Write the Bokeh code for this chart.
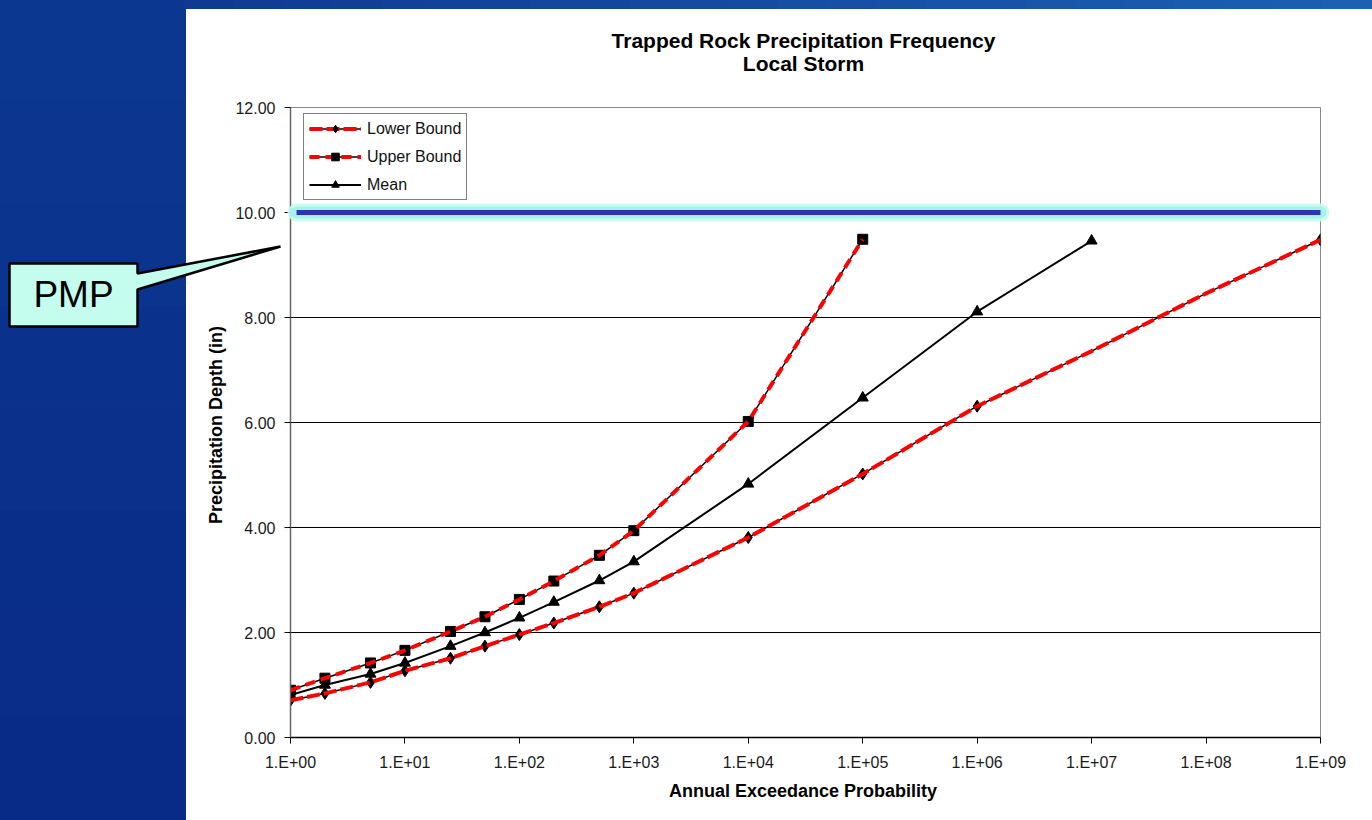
from bokeh.plotting import figure
from bokeh.models import (Range1d, FixedTicker, CustomJSTickFormatter, PrintfTickFormatter,
                          Legend, LegendItem, LinearScale)
from bokeh.core.properties import value
from bokeh.embed import file_html
from bokeh.resources import INLINE

# ---------------- data ----------------
title_lines = ["Trapped Rock Precipitation Frequency", "Local Storm"]
x_label = "Annual Exceedance  Probability"
y_label = "Precipitation Depth  (in)"
pmp_text = "PMP"

lower_x = [1, 2, 5, 10, 25, 50, 100, 200, 500, 1000, 1e4, 1e5, 1e6, 1e7, 1e8, 1e9]
lower_y = [0.71, 0.84, 1.05, 1.27, 1.51, 1.74, 1.96, 2.18, 2.49, 2.75, 3.81, 5.02, 6.31, 7.36, 8.46, 9.48]
lower_has_marker = [True] * 13 + [False, False, True]

upper_x = [1, 2, 5, 10, 25, 50, 100, 200, 500, 1000, 1e4, 1e5]
upper_y = [0.90, 1.13, 1.42, 1.66, 2.02, 2.30, 2.63, 2.98, 3.47, 3.94, 6.02, 9.49]

mean_x = [1, 2, 5, 10, 25, 50, 100, 200, 500, 1000, 1e4, 1e5, 1e6, 1e7]
mean_y = [0.81, 1.00, 1.21, 1.42, 1.74, 2.00, 2.28, 2.58, 2.99, 3.35, 4.83, 6.47, 8.11, 9.46]

pmp_value = 10.0
pmp_x = [1.13, 1e9]

x_ticks = [1, 10, 100, 1e3, 1e4, 1e5, 1e6, 1e7, 1e8, 1e9]
y_ticks = [0, 2, 4, 6, 8, 10, 12]

# ---------------- layout ----------------
W, H = 1372, 820
FL, FT, FR, FB = 290, 107, 1320, 737   # frame edges in canvas px
FONT = "Liberation Sans"

p = figure(width=W, height=H, x_axis_type="log",
           x_range=Range1d(1, 1e9), y_range=Range1d(0, 12),
           min_border_left=FL, min_border_right=W - FR,
           min_border_top=FT, min_border_bottom=H - FB,
           output_backend="svg", toolbar_location=None)
p.border_fill_color = "white"
p.background_fill_color = "white"
p.outline_line_color = "#8a8a8a"
p.outline_line_width = 1

# pixel-space ranges for slide decoration (canvas coordinates)
p.extra_x_ranges = {"px": Range1d(FL, FR)}
p.extra_x_scales = {"px": LinearScale()}
p.extra_y_ranges = {"py": Range1d(FB, FT)}
PX = dict(x_range_name="px", y_range_name="py")

# blue slide background (stepped gradient), drawn unclipped
lefts, rights, tops, bots, cols = [], [], [], [], []
n = 8
for i in range(n):
    t = i / (n - 1)
    r = round(0x0c + (0x08 - 0x0c) * t); g = round(0x37 + (0x2b - 0x37) * t); b = round(0x90 + (0x88 - 0x90) * t)
    lefts.append(-2); rights.append(185); tops.append(round(H * i / n) - 2)
    bots.append(round(H * (i + 1) / n) + 3)
    cols.append("#%02x%02x%02x" % (r, g, b))
n = 24
for i in range(n):
    t = i / (n - 1)
    r = round(0x0f + (0x1b - 0x0f) * t); g = round(0x3a + (0x60 - 0x3a) * t); b = round(0x92 + (0xb3 - 0x92) * t)
    lefts.append(round(185 + (W - 185) * i / n) - 1); rights.append(round(185 + (W - 185) * (i + 1) / n) + 3)
    tops.append(-2); bots.append(8); cols.append("#%02x%02x%02x" % (r, g, b))
p.quad(left=lefts, right=rights, top=tops, bottom=bots, fill_color=cols, line_color=cols, line_width=1,
       level="guide", **PX)

# axes
p.xaxis.ticker = FixedTicker(ticks=x_ticks)
p.xaxis.formatter = CustomJSTickFormatter(code="""
    const e = Math.round(Math.log10(tick));
    return "1.E+" + String(e).padStart(2, "0");
""")
p.yaxis.ticker = FixedTicker(ticks=y_ticks)
p.yaxis.formatter = PrintfTickFormatter(format="%.2f")
for ax in (p.xaxis, p.yaxis):
    ax.major_label_text_font = FONT
    ax.major_label_text_font_size = "16px"
    ax.major_label_text_color = "#1a1a1a"
    ax.axis_label_text_font = FONT
    ax.axis_label_text_font_size = "18px"
    ax.axis_label_text_font_style = "bold"
    ax.axis_label_text_color = "#000000"
    ax.major_tick_in = 0
    ax.major_tick_out = 6
    ax.minor_tick_in = 0
    ax.minor_tick_out = 0
    ax.major_tick_line_color = "#000000"
p.xaxis.axis_label = x_label
p.yaxis.axis_label = y_label
p.xaxis.axis_line_color = "#000000"
p.yaxis.axis_line_color = "#666666"
p.yaxis.axis_line_width = 1.5
p.xaxis.axis_line_width = 1.5
p.yaxis.major_label_standoff = 9
p.xaxis.major_label_standoff = 10
p.yaxis.axis_label_standoff = 6
p.xaxis.axis_label_standoff = 7

p.xgrid.grid_line_color = None
p.ygrid.grid_line_color = "#000000"
p.ygrid.grid_line_width = 1
p.ygrid.ticker = FixedTicker(ticks=y_ticks)

# PMP line with glow (glow may spill past the plot edge, as in the slide)
p.line(pmp_x, [pmp_value] * len(pmp_x), line_color="#c8faef", line_width=18, line_alpha=0.9,
       line_cap="round", level="annotation")
p.line(pmp_x, [pmp_value] * len(pmp_x), line_color="#a4f5e3", line_width=12, line_alpha=1,
       line_cap="round", level="annotation")
p.line(pmp_x, [pmp_value] * len(pmp_x), line_color="#3232b4", line_width=5, level="annotation")

# series
mean_line = p.line(mean_x, mean_y, line_color="black", line_width=2)
mean_pts = p.scatter(mean_x, mean_y, marker="triangle", size=11, fill_color="black", line_color="black")

low_black = p.line(lower_x, lower_y, line_color="black", line_width=1.5)
lmx = [x for x, m in zip(lower_x, lower_has_marker) if m]
lmy = [y for y, m in zip(lower_y, lower_has_marker) if m]
low_pts = p.scatter(lmx, lmy, marker="diamond", size=12, fill_color="black", line_color="black")
low_red = p.line(lower_x, lower_y, line_color="#ff0000", line_width=4, line_dash="13 4")

up_black = p.line(upper_x, upper_y, line_color="black", line_width=1.5)
up_pts = p.scatter(upper_x, upper_y, marker="square", size=10, fill_color="black", line_color="black")
up_red = p.line(upper_x, upper_y, line_color="#ff0000", line_width=4, line_dash="10 6")

legend = Legend(items=[
    LegendItem(label="Lower Bound", renderers=[low_black, low_red, low_pts]),
    LegendItem(label="Upper Bound", renderers=[up_black, up_red, up_pts]),
    LegendItem(label="Mean", renderers=[mean_line, mean_pts]),
], location=(13, 537))
legend.label_text_font = FONT
legend.label_text_font_size = "16px"
legend.label_text_color = "#111111"
legend.glyph_width = 52
legend.glyph_height = 19
legend.label_height = 19
legend.spacing = 9
legend.padding = 5
legend.margin = 0
legend.label_standoff = 6
legend.border_line_color = "black"
legend.border_line_width = 1
legend.background_fill_color = "white"
legend.background_fill_alpha = 1
p.add_layout(legend, "center")

# title (unclipped text glyphs, canvas coordinates)
p.text(x=[803, 803], y=[40, 63], text=title_lines, text_font=value(FONT), text_font_size="21px",
       text_font_style="bold", text_align="center", text_baseline="middle", text_color="black",
       level="overlay", **PX)

# PMP callout
cx = [9, 137, 137, 280, 137, 137, 9]
cy = [263, 263, 273, 246, 289, 326, 326]
p.patch(cx, cy, fill_color="#c4fcee", fill_alpha=1, line_color="black", line_width=2.5,
        level="overlay", **PX)
p.text(x=[73], y=[294], text=[pmp_text], text_font=value(FONT), text_font_size="37px",
       text_align="center", text_baseline="middle", text_color="black", level="overlay", **PX)

open("out.html", "w").write(file_html(p, INLINE))
